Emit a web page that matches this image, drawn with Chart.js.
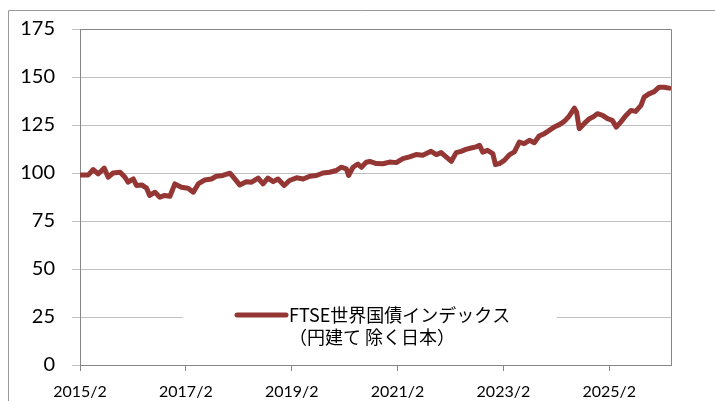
<!DOCTYPE html>
<html>
<head>
<meta charset="utf-8">
<script src="https://cdn.jsdelivr.net/npm/chart.js@4/dist/chart.umd.min.js"></script>
<style>
  body { margin: 0; background: #fff; }
  #wrap { width: 715px; height: 401px; }
</style>
</head>
<body>
<div id="wrap"><canvas id="chart" width="715" height="401"></canvas></div>
<script>
// months since 2015/2 and index level (2015/2 = 100)
const months = [0.0, 1.9, 3.0, 4.1, 5.5, 6.4, 7.5, 9.1, 10.2, 10.9, 12.1, 12.8, 14.0, 15.1, 15.8, 17.0, 18.1,
  19.2, 20.4, 21.5, 23.0, 24.5, 25.7, 26.8, 28.3, 29.8, 30.9, 32.4, 34.0, 35.1, 36.2, 37.7, 38.9, 40.4,
  41.5, 42.6, 43.8, 44.9, 46.3, 47.5, 49.1, 50.6, 52.1, 53.6, 55.1, 56.6, 58.1, 59.2, 60.4, 60.9, 61.9,
  63.0, 63.8, 64.9, 65.7, 67.2, 68.7, 70.2, 71.7, 73.2, 74.7, 76.2, 77.7, 79.6, 80.8, 81.9, 83.0, 84.2,
  85.3, 86.4, 87.5, 88.7, 89.8, 90.6, 91.3, 92.4, 93.6, 94.2, 95.1, 96.2, 97.4, 98.5, 99.6, 100.7, 101.9,
  103.0, 104.1, 105.3, 106.4, 107.5, 108.7, 109.8, 110.9, 112.1, 112.6, 113.2, 114.3, 115.5, 116.6, 117.3,
  118.5, 119.6, 120.7, 121.6, 122.6, 123.8, 124.9, 126.0, 127.2, 127.9, 129.0, 130.2, 131.3, 132.4, 133.6];
const values = [99.0, 99.0, 101.8, 99.5, 102.5, 97.8, 100.0, 100.4, 97.8, 95.2, 96.9, 93.5, 93.8, 92.1, 88.3, 90.0, 87.4,
  88.3, 87.9, 94.3, 92.6, 92.1, 90.0, 94.3, 96.4, 96.9, 98.3, 98.7, 99.9, 96.9, 93.8, 95.5, 95.2, 97.3,
  94.3, 97.3, 95.5, 96.9, 93.5, 96.1, 97.5, 96.9, 98.3, 98.7, 100.0, 100.4, 101.3, 103.0, 102.1, 98.7, 103.0,
  104.7, 103.0, 105.6, 106.0, 104.9, 104.8, 105.7, 105.4, 107.5, 108.4, 109.6, 109.2, 111.3, 109.6, 110.6, 108.4, 106.1,
  110.6, 111.3, 112.3, 113.0, 113.6, 114.4, 110.9, 111.8, 110.1, 104.4, 104.9, 106.6, 109.6, 111.0, 116.1, 115.3, 117.0,
  115.8, 119.3, 120.5, 122.2, 123.9, 125.2, 126.9, 129.6, 133.8, 131.7, 123.1, 125.7, 128.3, 129.6, 130.9,
  130.0, 128.3, 127.4, 123.9, 126.5, 130.0, 132.6, 132.1, 135.2, 139.5, 141.2, 142.4, 144.7, 144.7, 144.2];
const tickMonths = [0, 24, 48, 72, 96, 120];
const tickLabels = ['2015/2', '2017/2', '2019/2', '2021/2', '2023/2', '2025/2'];
const seriesName = ['FTSE世界国債インデックス', '（円建て 除く日本）'];
const lineColor = '#943634';

const frame = {
  id: 'frame',
  beforeDraw(chart) {
    const ctx = chart.ctx;
    ctx.save();
    ctx.strokeStyle = '#9a9a9a';
    ctx.lineWidth = 1;
    ctx.beginPath();
    ctx.moveTo(8.5, 401);
    ctx.lineTo(8.5, 10.5);
    ctx.lineTo(715, 10.5);
    ctx.stroke();
    ctx.restore();
  },
  beforeDatasetsDraw(chart) {
    const ctx = chart.ctx, a = chart.chartArea;
    ctx.save();
    ctx.strokeStyle = '#868686';
    ctx.lineWidth = 1;
    ctx.beginPath();
    ctx.moveTo(Math.round(a.left) + 0.5, Math.round(a.top) + 0.5);
    ctx.lineTo(Math.round(a.right) + 0.5, Math.round(a.top) + 0.5);
    ctx.lineTo(Math.round(a.right) + 0.5, Math.round(a.bottom));
    ctx.stroke();
    ctx.restore();
  },
  afterDatasetsDraw(chart) {
    // legend box sits inside the plot, over the 25 gridline
    const ctx = chart.ctx;
    ctx.save();
    ctx.fillStyle = '#fff';
    ctx.fillRect(183, 298, 374, 56);
    ctx.strokeStyle = lineColor;
    ctx.lineWidth = 5;
    ctx.lineCap = 'round';
    ctx.beginPath();
    ctx.moveTo(237, 315);
    ctx.lineTo(286, 315);
    ctx.stroke();
    ctx.fillStyle = '#000';
    ctx.font = '18px "Noto Sans CJK JP"';
    ctx.textBaseline = 'middle';
    ctx.fillText(seriesName[0], 289, 315);
    ctx.fillText(seriesName[1], 289, 337);
    ctx.restore();
  }
};

new Chart(document.getElementById('chart'), {
  type: 'line',
  data: {
    datasets: [{
      label: seriesName.join(''),
      data: months.map((m, i) => ({ x: m, y: values[i] })),
      borderColor: lineColor,
      borderWidth: 5,
      borderJoinStyle: 'round',
      borderCapStyle: 'round',
      pointRadius: 0,
      tension: 0
    }]
  },
  options: {
    responsive: false,
    animation: false,
    layout: { padding: { top: 28, right: 44, left: 0, bottom: 0 } },
    plugins: { legend: { display: false }, tooltip: { enabled: false } },
    scales: {
      x: {
        type: 'linear',
        min: 0,
        max: 134,
        afterBuildTicks(scale) { scale.ticks = tickMonths.map(v => ({ value: v })); },
        afterFit(scale) { scale.height = 36; },
        border: { color: '#868686', width: 1 },
        grid: { drawOnChartArea: false, drawTicks: true, tickLength: 6, color: '#868686' },
        ticks: {
          color: '#000',
          padding: 11,
          maxRotation: 0,
          autoSkip: false,
          font: { family: 'Lato', size: 16 },
          callback: (v) => tickLabels[tickMonths.indexOf(v)]
        }
      },
      y: {
        min: 0,
        max: 175,
        afterFit(scale) { scale.width = 80; },
        border: { color: '#868686', width: 1 },
        grid: { color: '#c0c0c0', tickLength: 8 },
        ticks: {
          stepSize: 25,
          color: '#000',
          padding: 17,
          font: { family: 'Lato', size: 20 }
        }
      }
    }
  },
  plugins: [frame]
});
</script>
</body>
</html>
